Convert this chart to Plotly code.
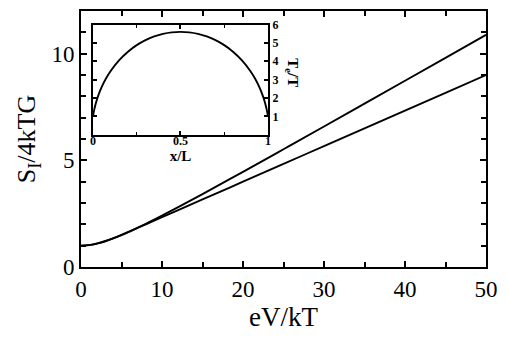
import plotly.graph_objects as go

# Main panel: noise vs voltage
ev_kt = [0, 1, 2, 3, 4, 5, 6, 8, 10, 12, 15, 20, 25, 30, 35, 40, 45, 50]
s_hot = [1.0, 1.025, 1.096, 1.204, 1.338, 1.492, 1.660, 2.022, 2.407, 2.806,
         3.418, 4.462, 5.520, 6.585, 7.656, 8.729, 9.804, 10.881]
s_cold = [1.0, 1.027, 1.104, 1.219, 1.358, 1.511, 1.672, 2.001, 2.333, 2.667,
          3.167, 4.000, 4.833, 5.667, 6.500, 7.333, 8.167, 9.000]

# Inset: electron temperature profile
x_l = [0, 0.005, 0.01, 0.02, 0.03, 0.05, 0.075, 0.1, 0.15, 0.2, 0.25, 0.3, 0.35,
       0.4, 0.45, 0.5, 0.55, 0.6, 0.65, 0.7, 0.75, 0.8, 0.85, 0.9, 0.925, 0.95,
       0.97, 0.98, 0.99, 0.995, 1.0]
te_t = [1.0, 1.267, 1.485, 1.839, 2.130, 2.603, 3.072, 3.456, 4.062, 4.523, 4.878,
        5.151, 5.354, 5.494, 5.576, 5.603, 5.576, 5.494, 5.354, 5.151, 4.878,
        4.523, 4.062, 3.456, 3.072, 2.603, 2.130, 1.839, 1.485, 1.267, 1.0]

FONT = "Liberation Serif, Times New Roman, serif"

fig = go.Figure()
for xs, ys, xa, ya in [(ev_kt, s_hot, "x", "y"), (ev_kt, s_cold, "x", "y"), (x_l, te_t, "x2", "y2")]:
    fig.add_trace(go.Scatter(x=xs, y=ys, mode="lines",
                             line=dict(color="black", width=1.9, shape="spline"),
                             xaxis=xa, yaxis=ya, hoverinfo="skip"))

axis_common = dict(showline=True, linecolor="black", linewidth=2, ticks="inside",
                   tickcolor="black", tickwidth=1.5, mirror="ticks", showgrid=False,
                   zeroline=False)

fig.update_layout(
    width=508, height=339,
    margin=dict(l=81, r=22, t=4, b=72),
    paper_bgcolor="white", plot_bgcolor="white",
    showlegend=False,
    font=dict(family=FONT, color="black"),
    xaxis=dict(**axis_common, range=[0, 50], tickvals=[0, 10, 20, 30, 40, 50],
               ticklen=6, minor=dict(dtick=5, ticks="inside", ticklen=5, tickcolor="black", tickwidth=1.5),
               tickfont=dict(size=23, family=FONT),
               title=dict(text="eV/kT", font=dict(size=27, family=FONT), standoff=6),
               domain=[0, 1], anchor="y"),
    yaxis=dict(**axis_common, range=[0, 12], tickvals=[0, 5, 10],
               ticklen=6, minor=dict(dtick=1, ticks="inside", ticklen=5, tickcolor="black", tickwidth=1.5),
               tickfont=dict(size=23, family=FONT),
               title=dict(text="S<sub>I</sub>/4kTG", font=dict(size=26, family=FONT), standoff=8),
               domain=[0, 1], anchor="x"),
    xaxis2=dict(**axis_common, range=[0, 1], tickvals=[0, 0.5, 1], ticktext=["<b>0</b>", "<b>0.5</b>", "<b>1</b>"],
                ticklen=4, minor=dict(dtick=0.25, ticks="inside", ticklen=3, tickcolor="black", tickwidth=1.2),
                tickfont=dict(size=12, family=FONT), ticklabelstandoff=-6,
                title=dict(text="<b>x/L</b>", font=dict(size=15, family=FONT), standoff=0),
                domain=[0.0296, 0.4617], anchor="y2"),
    yaxis2=dict(**axis_common, range=[0, 6], tickvals=[1, 2, 3, 4, 5, 6],
                ticktext=["<b>%d</b>" % v for v in [1, 2, 3, 4, 5, 6]],
                ticklen=4, side="right",
                tickfont=dict(size=12, family=FONT),
                domain=[0.517, 0.947], anchor="x2"),
    annotations=[dict(text="<b>T<sub>e</sub>/T</b>", textangle=90, xref="paper", yref="paper",
                      x=(292 - 81) / 405, y=(267 - 50) / 263, showarrow=False,
                      font=dict(size=15, family=FONT, color="black"))],
)

post = ("document.body.style.margin='0px';document.body.style.padding='0px';"
        "if(document.fonts&&document.fonts.ready){document.fonts.ready.then(function(){"
        "var gd=document.getElementById('{plot_id}');Plotly.redraw(gd);});}")

fig.write_html("out.html", config={"displayModeBar": False}, post_script=post)
